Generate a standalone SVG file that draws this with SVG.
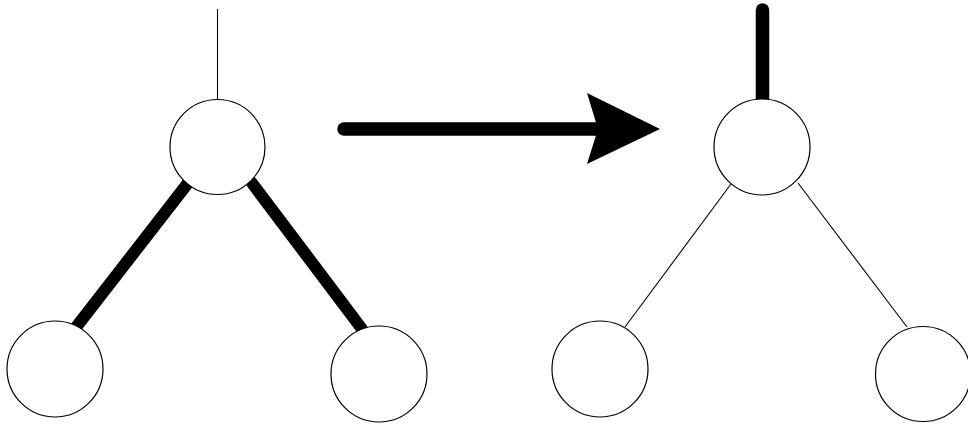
<svg xmlns="http://www.w3.org/2000/svg" width="968" height="425" viewBox="0 0 968 425">
<style>
.node{fill:#fff;stroke:#000;stroke-width:1.2}
.thin{stroke:#000;stroke-width:1.1;fill:none}
.thick{stroke:#000;stroke-width:12;stroke-linecap:round;fill:none}
.arrow{stroke:#000;stroke-width:13.5;stroke-linecap:round;fill:none}
</style>
<rect width="968" height="425" fill="#fff"/>
<g id="connectors">
<line class="thin" x1="217.5" y1="9" x2="217.5" y2="99.5"/>
<line class="thick" x1="188" y1="183" x2="77" y2="326"/>
<line class="thick" x1="252" y1="183" x2="362" y2="329"/>
<line class="arrow" x1="344" y1="129" x2="600" y2="129"/>
<polygon points="587,93 660,129 587,164 598,129" fill="#000"/>
<line class="arrow" x1="762.5" y1="10" x2="762.5" y2="100"/>
<line class="thin" x1="731" y1="184" x2="625" y2="327"/>
<line class="thin" x1="798" y1="183" x2="907" y2="327"/>
</g>
<g id="L-root"><circle class="node" cx="217.5" cy="147" r="47.5"/></g>
<g id="L-left"><circle class="node" cx="55" cy="369" r="48"/></g>
<g id="L-right"><circle class="node" cx="379" cy="374" r="48"/></g>
<g id="R-root"><circle class="node" cx="762" cy="147" r="48"/></g>
<g id="R-left"><circle class="node" cx="600" cy="369" r="48"/></g>
<g id="R-right"><circle class="node" cx="923" cy="374" r="47.5"/></g>
</svg>
